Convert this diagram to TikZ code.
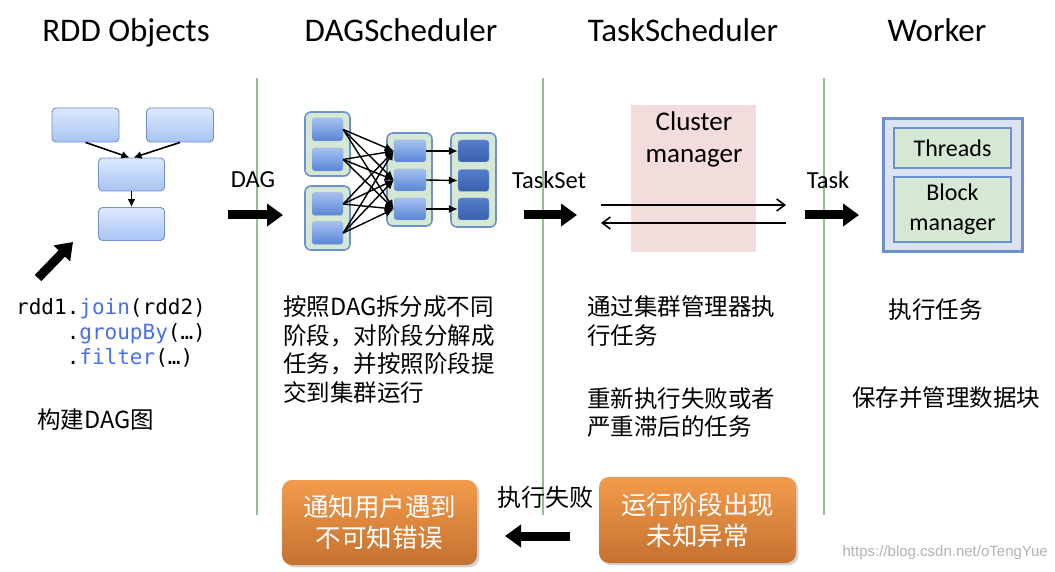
\documentclass[tikz,border=0pt]{standalone}
\usepackage{fontspec}
\setmainfont{Carlito}
\setmonofont{DejaVu Sans Mono}
\newfontfamily\cjk{Noto Sans CJK SC}
\newfontfamily\wmfont{Liberation Sans}
\usetikzlibrary{arrows.meta,shapes,positioning,shadows}

\definecolor{sepgreen}{RGB}{141,193,138}
\definecolor{rddtop}{RGB}{221,232,252}
\definecolor{rddbot}{RGB}{168,196,244}
\definecolor{boxline}{RGB}{110,145,205}
\definecolor{stagefill}{RGB}{213,232,212}
\definecolor{tasktop}{RGB}{166,193,242}
\definecolor{taskbot}{RGB}{88,133,213}
\definecolor{darktop}{RGB}{84,125,204}
\definecolor{darkbot}{RGB}{58,96,170}
\definecolor{clusterpink}{RGB}{242,221,220}
\definecolor{workerfill}{RGB}{220,227,240}
\definecolor{orangetop}{RGB}{243,155,76}
\definecolor{orangebot}{RGB}{197,114,48}
\definecolor{codeblue}{RGB}{72,110,235}

\tikzset{
  title/.style={anchor=base, inner sep=0pt, font=\fontsize{33}{40}\selectfont},
  lbl/.style={inner sep=0pt, font=\fontsize{24.5}{30}\selectfont},
  zhtext/.style={inner sep=0pt, align=left, font=\cjk\fontsize{23.5}{28.5}\selectfont},
  sepline/.style={sepgreen, line width=2.8pt},
  rddbox/.style={draw=boxline, line width=0.9pt, rounded corners=4pt, top color=rddtop, bottom color=rddbot,
    minimum width=66pt, minimum height=33pt, inner sep=0pt},
  stagebox/.style={draw=boxline, line width=1.6pt, rounded corners=6pt, fill=stagefill,
    minimum width=45pt, inner sep=0pt},
  taskbox/.style={draw=boxline!70, rounded corners=3pt, top color=tasktop, bottom color=taskbot,
    minimum width=31pt, minimum height=23pt, inner sep=0pt},
  darkbox/.style={taskbox, top color=darktop, bottom color=darkbot},
  thinarrow/.style={-{Latex[length=8pt,width=8pt]}, line width=1.6pt},
  fan/.style={-{Latex[length=9pt,width=8pt]}, line width=1.4pt},
  bigarrow/.style={line width=9pt, -{Triangle[length=16pt,width=22pt]}},
  cmarrow/.style={line width=1.6pt, -{Straight Barb[length=8pt,width=12pt]}},
  workbox/.style={draw=boxline, line width=1.6pt, fill=stagefill, minimum width=117pt,
    inner sep=0pt, align=center, font=\fontsize{24}{30}\selectfont},
  alarm/.style={rounded corners=10pt, top color=orangetop, bottom color=orangebot,
    drop shadow={opacity=0.35}, text=white, align=center, inner sep=0pt,
    font=\cjk\fontsize{25.5}{31}\selectfont}
}

\begin{document}
\begin{tikzpicture}[x=1pt, y=-1pt]
  \useasboundingbox (0,0) rectangle (1055,572);

  % column titles
  \node[title] (rddT) at (126,42) {RDD Objects};
  \node[title] (dagT) at (401,42) {DAGScheduler};
  \node[title] (taskT) at (683,42) {TaskScheduler};
  \node[title] (workT) at (937,42) {Worker};

  % separators
  \draw[sepline] (257,78) -- (257,515);
  \draw[sepline] (543,78) -- (543,515);
  \draw[sepline] (824,78) -- (824,515);

  % RDD objects
  \node[rddbox, minimum width=67pt, minimum height=34pt] (r1) at (85.5,125) {};
  \node[rddbox, minimum width=67pt, minimum height=34pt] (r2) at (180,125) {};
  \node[rddbox] (r3) at (131.5,174.5) {};
  \node[rddbox] (r4) at (131.5,224) {};
  \draw[thinarrow] (r1.south) -- ([xshift=-2pt]r3.north);
  \draw[thinarrow] (r2.south) -- ([xshift=2pt]r3.north);
  \draw[thinarrow] (r3.south) -- (r4.north);
  \coordinate (u1) at (38,278);
  \coordinate (u2) at (73,242);
  \draw[bigarrow] (u1) -- (u2);

  \node[inner sep=0pt, anchor=west, align=left, font=\ttfamily\fontsize{21}{25}\selectfont] (code) at (16,333)
    {rdd1.\textcolor{codeblue}{join}(rdd2)\\
     \phantom{rdd1}.\textcolor{codeblue}{groupBy}(…)\\
     \phantom{rdd1}.\textcolor{codeblue}{filter}(…)};
  \node[zhtext, anchor=west] (buildT) at (37,420) {构建DAG图};

  % DAG -> stages
  \node[lbl] (dagL) at (253,180) {DAG};
  \coordinate (a1) at (228,215);
  \coordinate (a2) at (283,215);
  \draw[bigarrow] (a1) -- (a2);

  \node[stagebox, minimum height=64pt] (g1) at (327.5,144) {};
  \node[stagebox, minimum height=64pt] (g2) at (327.5,218) {};
  \node[stagebox, minimum height=93pt] (g3) at (409.5,179.5) {};
  \node[stagebox, minimum height=94pt] (g4) at (473.5,180) {};
  \node[taskbox] (t11) at (327.5,129.5) {};
  \node[taskbox] (t12) at (327.5,159.5) {};
  \node[taskbox] (t21) at (327.5,204) {};
  \node[taskbox] (t22) at (327.5,233) {};
  \node[taskbox, minimum width=32pt, minimum height=22pt] (t31) at (410,151) {};
  \node[taskbox, minimum width=32pt, minimum height=22pt] (t32) at (410,180) {};
  \node[taskbox, minimum width=32pt, minimum height=22pt] (t33) at (410,209) {};
  \node[darkbox, minimum height=22pt] (t41) at (473.5,151) {};
  \node[darkbox, minimum height=22pt] (t42) at (473.5,180.5) {};
  \node[darkbox, minimum height=22pt] (t43) at (473.5,209) {};
  \foreach \a in {t11,t12,t21,t22}
    \foreach \b in {t31,t32,t33}
      \draw[fan] (\a.east) -- (\b.west);
  \foreach \i in {1,2,3}
    \draw[fan] (t3\i.east) -- (t4\i.west);

  \node[zhtext, anchor=west] (dagD) at (283,349.5)
    {按照DAG拆分成不同\\阶段，对阶段分解成\\任务，并按照阶段提\\交到集群运行};

  % TaskScheduler
  \node[lbl] (setL) at (549,180) {TaskSet};
  \coordinate (b1) at (524,215);
  \coordinate (b2) at (577,215);
  \draw[bigarrow] (b1) -- (b2);
  \node[fill=clusterpink, minimum width=125pt, minimum height=147pt, inner sep=0pt] (cm) at (693.5,178.5) {};
  \node[align=center, inner sep=0pt, font=\fontsize{27}{32}\selectfont] (cmT) at (694,139) {Cluster\\manager};
  \coordinate (p1) at (601,205);
  \coordinate (p2) at (786,205);
  \coordinate (p3) at (786,223);
  \coordinate (p4) at (601,223);
  \draw[cmarrow] (p1) -- (p2);
  \draw[cmarrow] (p3) -- (p4);
  \node[zhtext, anchor=west] (runD) at (587,321) {通过集群管理器执\\行任务};
  \node[zhtext, anchor=west] (retryD) at (587,412.5) {重新执行失败或者\\严重滞后的任务};

  % Worker
  \node[lbl] (taskL) at (828,180) {Task};
  \coordinate (c1) at (805,215);
  \coordinate (c2) at (859,215);
  \draw[bigarrow] (c1) -- (c2);
  \node[draw=boxline, line width=2.6pt, fill=workerfill, minimum width=139pt, minimum height=133pt] (wk) at (953,185) {};
  \node[workbox, minimum height=40pt] (thr) at (952.5,148) {Threads};
  \node[workbox, minimum height=65pt] (blk) at (952.5,209.5) {Block\\manager};
  \node[zhtext] (execD) at (935.5,310) {执行任务};
  \node[zhtext] (storeD) at (946,398) {保存并管理数据块};

  % failure path
  \node[alarm, minimum width=195pt, minimum height=85pt] (ob1) at (379.5,522.5) {通知用户遇到\\不可知错误};
  \node[alarm, minimum width=197pt, minimum height=86pt] (ob2) at (697.5,520) {运行阶段出现\\未知异常};
  \node[zhtext, font=\cjk\fontsize{24}{28}\selectfont] (failL) at (545.5,497) {执行失败};
  \coordinate (q1) at (570,536);
  \coordinate (q2) at (505,536);
  \draw[bigarrow] (q1) -- (q2);

  \node[anchor=east, inner sep=0pt, text=black!30, font=\wmfont\fontsize{15}{18}\selectfont] (wm) at (1048,553) {https://blog.csdn.net/oTengYue};
\end{tikzpicture}
\end{document}
